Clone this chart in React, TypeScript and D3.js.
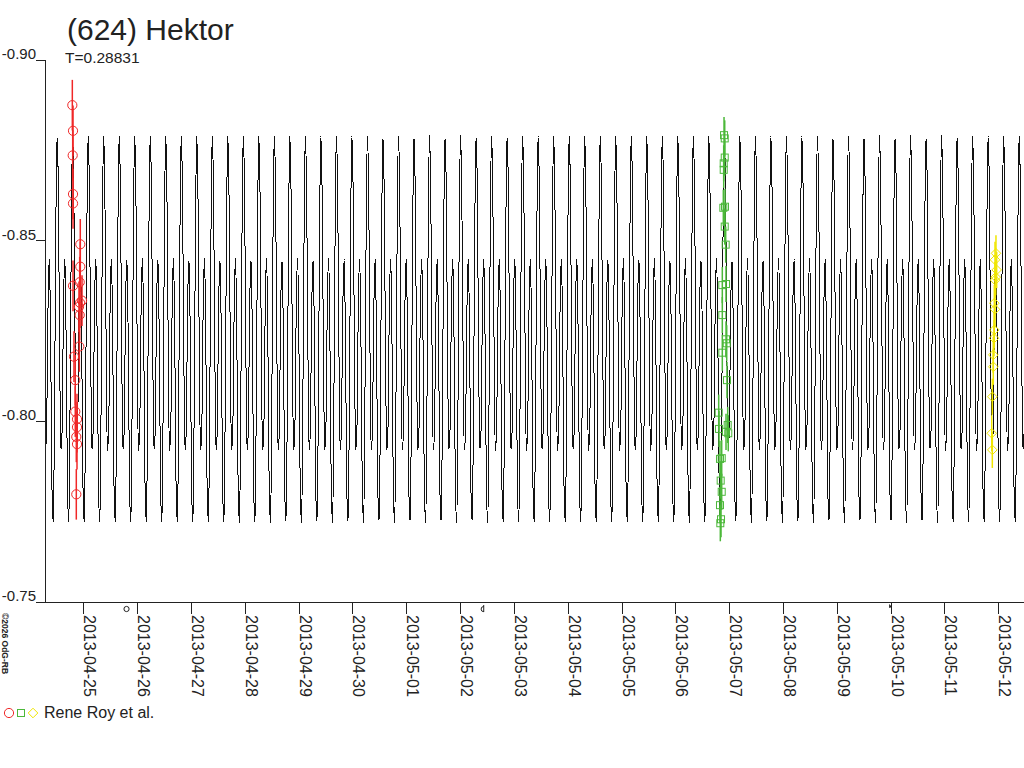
import { useMemo } from 'react';
import * as d3 from 'd3';

// Lightcurve of (624) Hektor, model curve + three observing sessions

const WIDTH = 1024;
const HEIGHT = 768;
const PLOT = { left: 45, right: 1024, top: 60, bottom: 602 };
const FONT = '"Liberation Sans", Arial, sans-serif';

const TITLE = '(624) Hektor';
const PERIOD_LABEL = 'T=0.28831';
const LEGEND_LABEL = 'Rene Roy et al.';
const CREDIT = '\u00a92026 OdG-RB';

// dates are MJD
const X_DOMAIN = [56406.2884, 56424.4786];
const Y_DOMAIN = [-0.9, -0.75];
const Y_TICKS = [-0.9, -0.85, -0.8, -0.75];

// model lightcurve: one rotation, 16 phase steps starting at the primary maximum
const PERIOD = 0.28831;
const EPOCH_MAX = 56408.531;
const TEMPLATE = [
    -0.879, -0.870, -0.841, -0.809, -0.792, -0.796, -0.817, -0.838,
    -0.845, -0.831, -0.803, -0.778, -0.772, -0.791, -0.827, -0.862,
];

// observations [mjd, mag]
const sessionApr25: [number, number][] = [
    [56406.796, -0.8875], [56406.809, -0.8804], [56406.803, -0.8736], [56406.809, -0.8629],
    [56406.809, -0.8603], [56406.944, -0.849], [56406.944, -0.8428], [56406.933, -0.8385],
    [56406.809, -0.8375], [56406.976, -0.8334], [56406.939, -0.8328], [56406.92, -0.8317],
    [56406.933, -0.8294], [56406.926, -0.8207], [56406.827, -0.8179], [56406.851, -0.8114],
    [56406.851, -0.8027], [56406.883, -0.8006], [56406.883, -0.7984], [56406.87, -0.7957],
    [56406.883, -0.7937], [56406.87, -0.7798],
];
const sessionMay07: [number, number][] = [
    [56418.905, -0.8792], [56418.918, -0.8783], [56418.918, -0.873], [56418.899, -0.8714],
    [56418.899, -0.8696], [56418.892, -0.8591], [56418.923, -0.8594], [56418.918, -0.8539],
    [56418.936, -0.8489], [56418.942, -0.838], [56418.873, -0.8377], [56418.873, -0.8294],
    [56418.942, -0.8227], [56418.955, -0.8216], [56418.873, -0.819], [56418.96, -0.8114],
    [56418.806, -0.8024], [56418.812, -0.7979], [56418.973, -0.799], [56418.984, -0.7967],
    [56418.942, -0.7971], [56418.862, -0.7898], [56418.83, -0.7896], [56418.843, -0.7836],
    [56418.862, -0.7805], [56418.83, -0.7768], [56418.849, -0.7729], [56418.836, -0.7718],
];
const sessionMay12: [number, number][] = [
    [56423.958, -0.8465], [56423.94, -0.8447], [56423.971, -0.8419], [56423.953, -0.8399],
    [56423.94, -0.8391], [56423.927, -0.8327], [56423.94, -0.831], [56423.927, -0.8253],
    [56423.921, -0.823], [56423.908, -0.8184], [56423.908, -0.8151], [56423.89, -0.8068],
    [56423.879, -0.7967], [56423.89, -0.7921],
];

const SESSIONS = [
    { data: sessionApr25, err: 0.007, color: '#f02828', shape: 'circle' },
    { data: sessionMay07, err: 0.005, color: '#4cb83a', shape: 'square' },
    { data: sessionMay12, err: 0.005, color: '#f0e600', shape: 'diamond' },
];

// moon phases [mjd, kind]
const MOON: [number, string][] = [
    [56407.831, 'full'],
    [56414.468, 'last'],
    [56422.019, 'new'],
];

const mjdToDate = (mjd: number) => new Date((mjd - 40587) * 86400000);

const Marker = ({ shape, color, x, y }: { shape: string; color: string; x: number; y: number }) => {
    if (shape === 'circle') return <circle cx={x} cy={y} r={4.6} fill="none" stroke={color} />;
    if (shape === 'square') return <rect x={x - 3.5} y={y - 3.5} width={7} height={7} fill="none" stroke={color} />;
    return <path d={`M${x},${y - 4.8}L${x + 4.8},${y}L${x},${y + 4.8}L${x - 4.8},${y}Z`} fill="none" stroke={color} />;
};

export default function App() {
    const xScale = useMemo(
        () => d3.scaleUtc().domain(X_DOMAIN.map(mjdToDate)).range([PLOT.left, PLOT.right]),
        [],
    );
    const yScale = useMemo(() => d3.scaleLinear().domain(Y_DOMAIN).range([PLOT.top, PLOT.bottom]), []);

    const yFormat = d3
        .formatLocale({ decimal: '.', thousands: ',', grouping: [3], currency: ['', ''], minus: '-' })
        .format('.2f');
    const xFormat = d3.utcFormat('%Y-%m-%d');
    const xTicks = xScale.ticks(d3.utcDay.every(1)!);

    // repeat the rotation template over the visible time span
    const modelPath = useMemo(() => {
        const kStart = Math.floor((X_DOMAIN[0] - EPOCH_MAX) / PERIOD) - 1;
        const kEnd = Math.ceil((X_DOMAIN[1] - EPOCH_MAX) / PERIOD) + 1;
        const pts: [number, number][] = [];
        for (let k = kStart; k <= kEnd; k++) {
            TEMPLATE.forEach((v, i) => {
                pts.push([EPOCH_MAX + (k + i / TEMPLATE.length) * PERIOD, v]);
            });
        }
        const line = d3
            .line<[number, number]>()
            .x((d) => xScale(mjdToDate(d[0])))
            .y((d) => yScale(d[1]))
            .curve(d3.curveCatmullRom);
        return line(pts) ?? '';
    }, [xScale, yScale]);

    return (
        <div style={{ position: 'absolute', left: 0, top: 0 }}>
            <svg width={WIDTH} height={HEIGHT} style={{ display: 'block', background: '#fff' }} fontFamily={FONT}>
                <defs>
                    <clipPath id="plot-clip">
                        <rect x={PLOT.left + 1} y={0} width={PLOT.right - PLOT.left} height={HEIGHT} />
                    </clipPath>
                </defs>

                <text x={67} y={40} fontSize={30} fill="#222">
                    {TITLE}
                </text>
                <text x={65} y={63} fontSize={15.5} fill="#222">
                    {PERIOD_LABEL}
                </text>

                <g clipPath="url(#plot-clip)">
                    <path d={modelPath} fill="none" stroke="#111" strokeWidth={1} shapeRendering="crispEdges" />
                </g>

                {SESSIONS.map((s, si) => (
                    <g key={si}>
                        {s.data.map((d, i) => (
                            <line
                                key={i}
                                x1={xScale(mjdToDate(d[0]))}
                                x2={xScale(mjdToDate(d[0]))}
                                y1={yScale(d[1] - s.err)}
                                y2={yScale(d[1] + s.err)}
                                stroke={s.color}
                                strokeWidth={1.5}
                            />
                        ))}
                        {s.data.map((d, i) => (
                            <Marker key={i} shape={s.shape} color={s.color} x={xScale(mjdToDate(d[0]))} y={yScale(d[1])} />
                        ))}
                    </g>
                ))}

                {/* y axis */}
                <line x1={PLOT.left} x2={PLOT.left} y1={PLOT.top} y2={PLOT.bottom} stroke="#222" shapeRendering="crispEdges" />
                {Y_TICKS.map((t) => (
                    <g key={t}>
                        <line x1={36} x2={PLOT.left} y1={yScale(t)} y2={yScale(t)} stroke="#222" shapeRendering="crispEdges" />
                        <text x={36} y={yScale(t) - 1} textAnchor="end" fontSize={15} fill="#222">
                            {yFormat(t)}
                        </text>
                    </g>
                ))}

                {/* x axis */}
                <line x1={36} x2={PLOT.right} y1={PLOT.bottom} y2={PLOT.bottom} stroke="#222" shapeRendering="crispEdges" />
                {xTicks.map((t) => {
                    const x = Math.round(xScale(t));
                    return (
                        <g key={t.getTime()}>
                            <line x1={x} x2={x} y1={PLOT.bottom} y2={PLOT.bottom + 12} stroke="#222" shapeRendering="crispEdges" />
                            <text transform={`translate(${x + 1},${PLOT.bottom + 13}) rotate(90)`} fontSize={16} fill="#222">
                                {xFormat(t)}
                            </text>
                        </g>
                    );
                })}

                {/* moon phases */}
                {MOON.map(([mjd, kind]) => {
                    const x = xScale(mjdToDate(mjd)) - 1.5;
                    const y = PLOT.bottom + 7;
                    if (kind === 'full') return <circle key={kind} cx={x} cy={y} r={2.6} fill="none" stroke="#222" />;
                    if (kind === 'last')
                        return (
                            <path
                                key={kind}
                                d={`M${x},${y - 4}L${x},${y + 3}M${x},${y - 2.5}A2.6,2.6 0 1 0 ${x},${y + 2.7}`}
                                fill="none"
                                stroke="#222"
                            />
                        );
                    return <path key={kind} d={`M${x - 1},${y - 5}L${x + 2},${y - 2}L${x - 1},${y - 1}Z`} fill="#222" />;
                })}

                <text transform="translate(1.5,613) rotate(90)" fontSize={8.5} fontWeight="bold" fill="#222">
                    {CREDIT}
                </text>

                {/* legend */}
                <g>
                    {SESSIONS.map((s, i) => (
                        <Marker key={i} shape={s.shape} color={s.color} x={9 + i * 12} y={713} />
                    ))}
                    <text x={44} y={718} fontSize={16} fill="#222">
                        {LEGEND_LABEL}
                    </text>
                </g>
            </svg>
        </div>
    );
}
